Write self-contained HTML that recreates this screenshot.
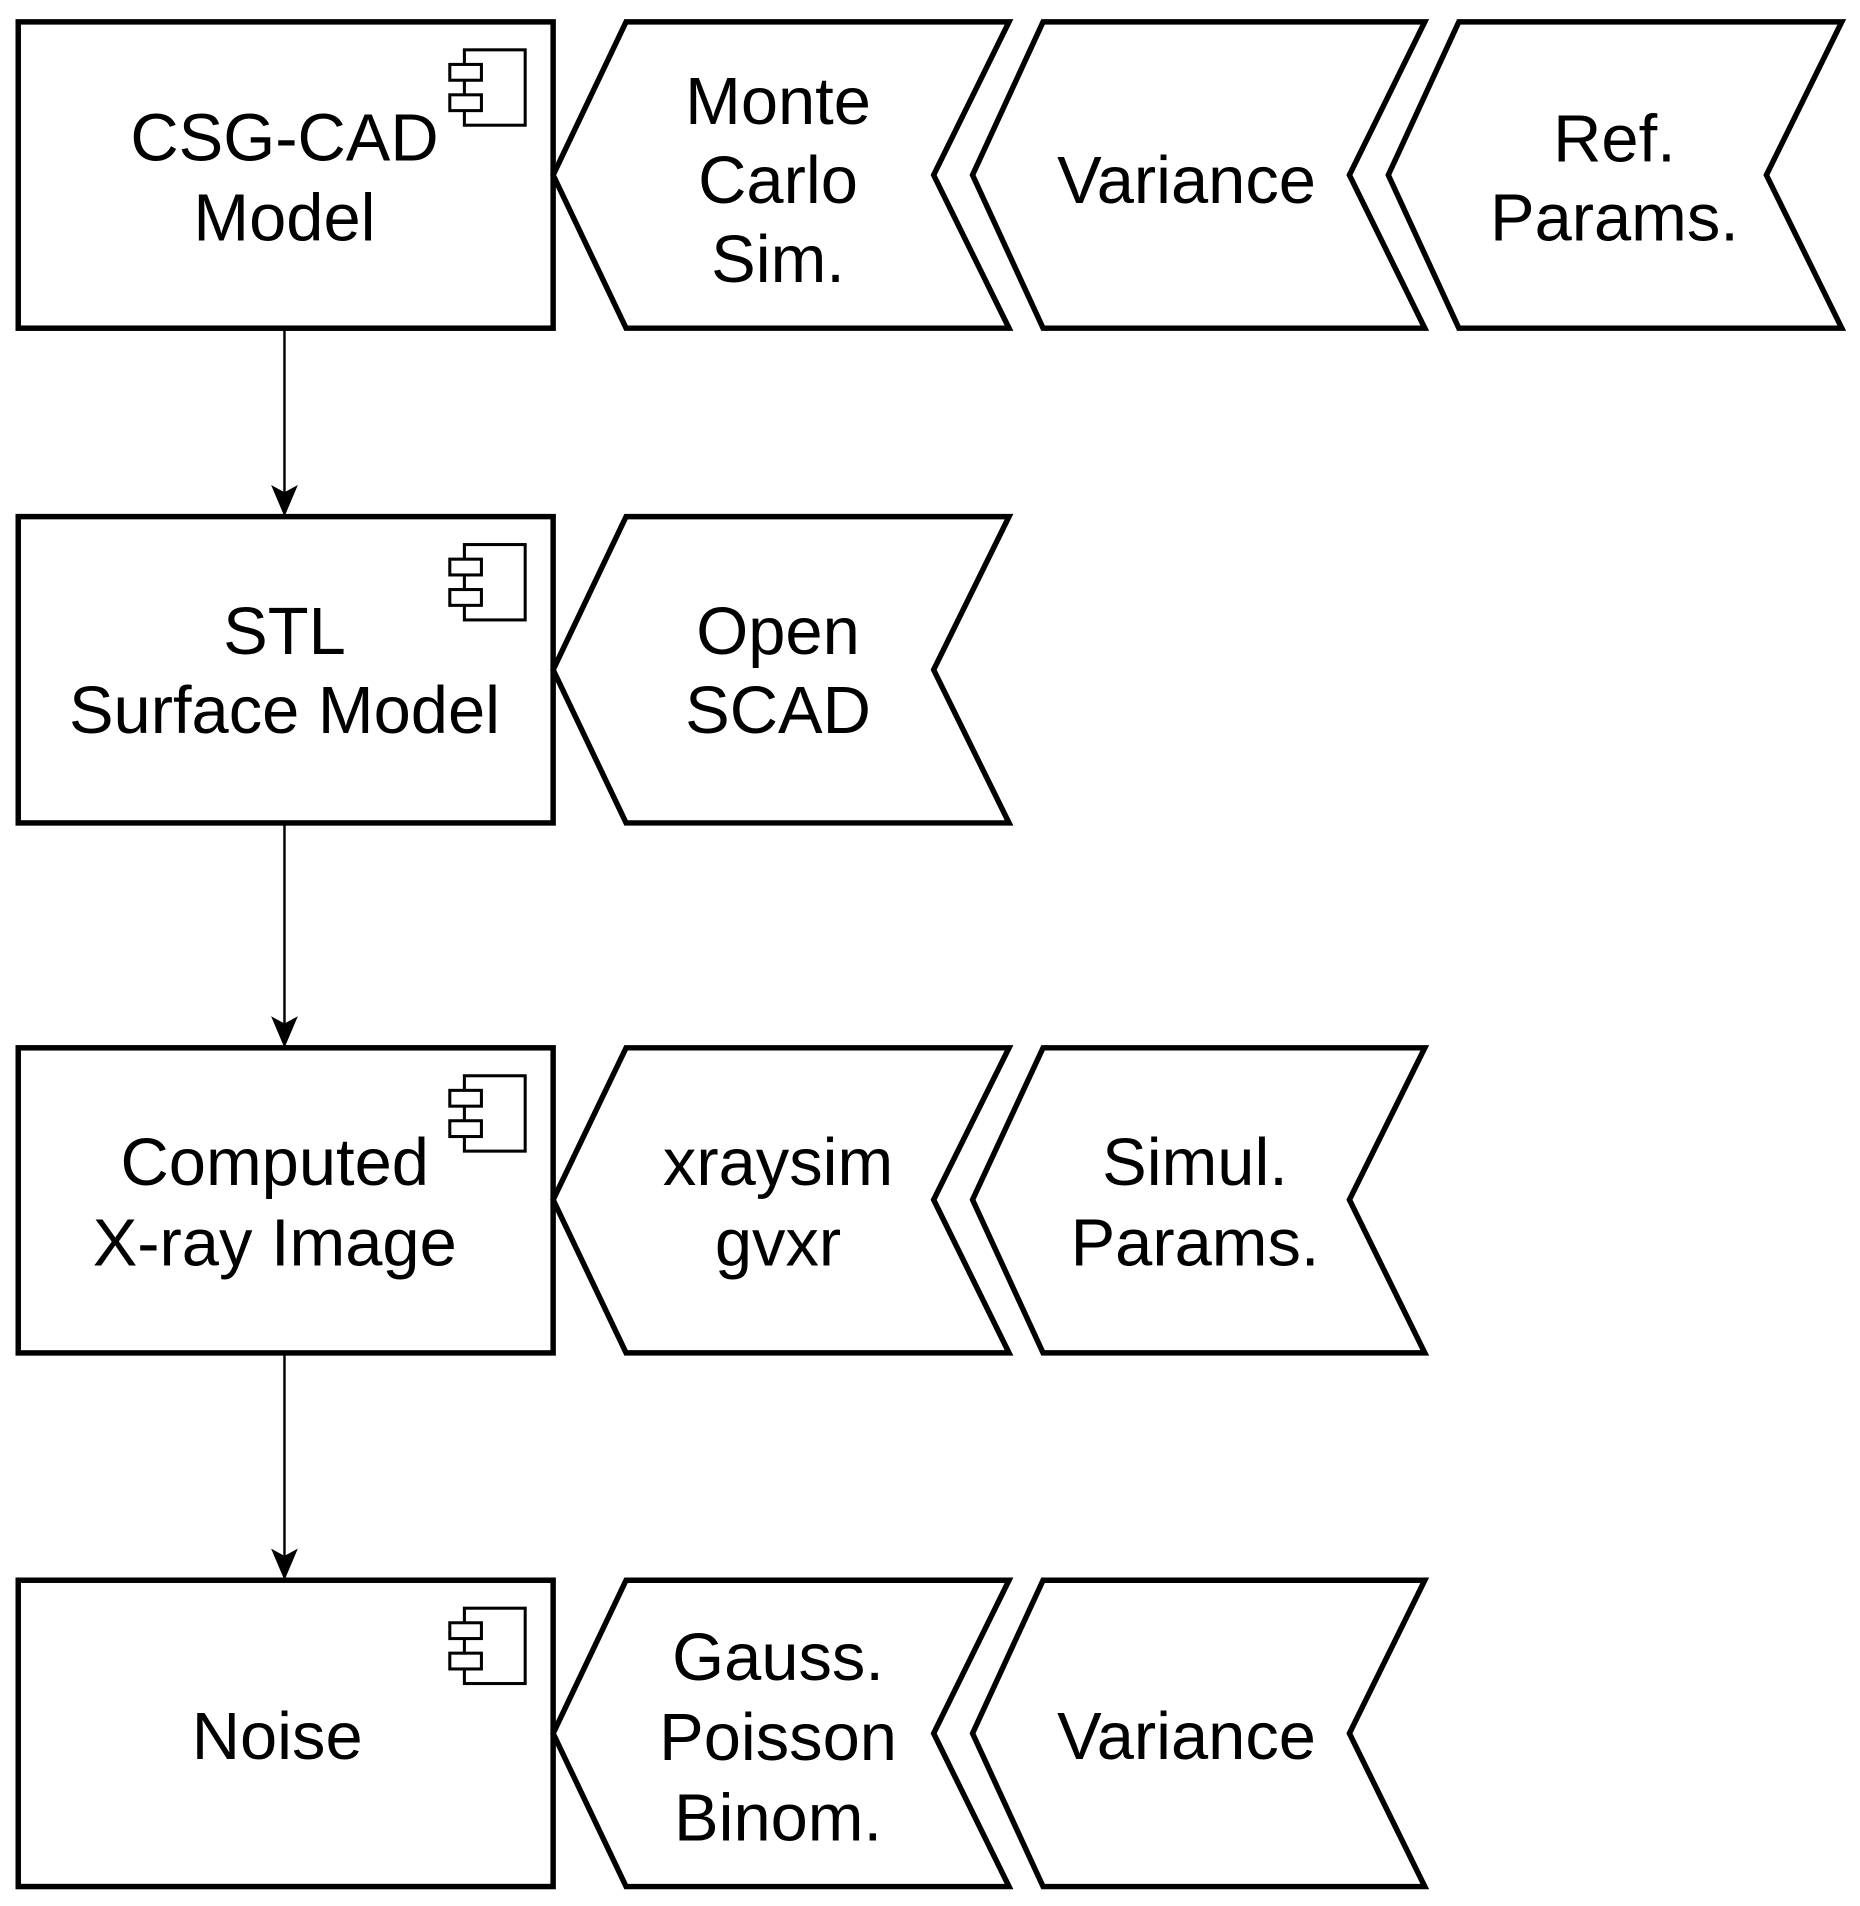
<!DOCTYPE html>
<html><head><meta charset="utf-8"><style>
html,body{margin:0;padding:0;background:#fff;}
svg{display:block;}
text{font-family:"Liberation Sans",Arial,sans-serif;font-size:55px;fill:#000;text-anchor:middle;}
</style></head><body>
<svg width="1860" height="1906" viewBox="0 0 1530 1568" preserveAspectRatio="none" xmlns="http://www.w3.org/2000/svg">
<defs>
<g id="icon" fill="#fff" stroke="#000" stroke-width="2.5">
<rect x="382" y="0" width="50" height="62"/>
<rect x="370" y="12" width="26" height="13"/>
<rect x="370" y="37" width="26" height="13"/>
</g>
<path id="ah" d="M0,0 L-11,-26 L0,-20 L11,-26 Z" fill="#000"/>
</defs>
<g fill="#fff" stroke="#000" stroke-width="4.5" stroke-linejoin="miter">
<!-- row 1 -->
<rect x="15" y="18" width="440" height="252"/>
<polygon points="455,144 515,18 830,18 768,144 830,270 515,270"/>
<polygon points="800,144 858,18 1172,18 1110,144 1172,270 858,270"/>
<polygon points="1142,144 1200,18 1515,18 1453,144 1515,270 1200,270"/>
<!-- row 2 -->
<rect x="15" y="425" width="440" height="252"/>
<polygon points="455,551 515,425 830,425 768,551 830,677 515,677"/>
<!-- row 3 -->
<rect x="15" y="862" width="440" height="251"/>
<polygon points="455,987 515,862 830,862 768,987 830,1113 515,1113"/>
<polygon points="800,987 858,862 1172,862 1110,987 1172,1113 858,1113"/>
<!-- row 4 -->
<rect x="15" y="1300" width="440" height="252"/>
<polygon points="455,1426 515,1300 830,1300 768,1426 830,1552 515,1552"/>
<polygon points="800,1426 858,1300 1172,1300 1110,1426 1172,1552 858,1552"/>
</g>
<use href="#icon" y="41"/>
<use href="#icon" y="448"/>
<use href="#icon" y="885"/>
<use href="#icon" y="1323"/>
<g stroke="#000" stroke-width="2">
<line x1="234" y1="272" x2="234" y2="410"/>
<line x1="234" y1="679" x2="234" y2="848"/>
<line x1="234" y1="1115" x2="234" y2="1286"/>
</g>
<use href="#ah" x="234" y="425"/>
<use href="#ah" x="234" y="862"/>
<use href="#ah" x="234" y="1300"/>
<text x="234" y="132">CSG-CAD</text>
<text x="234" y="198">Model</text>
<text x="640" y="102">Monte</text>
<text x="640" y="167">Carlo</text>
<text x="640" y="232">Sim.</text>
<text x="976" y="167">Variance</text>
<text x="1328" y="133">Ref.</text>
<text x="1328" y="198">Params.</text>
<text x="234" y="538">STL</text>
<text x="234" y="603">Surface Model</text>
<text x="640" y="538">Open</text>
<text x="640" y="603">SCAD</text>
<text x="226" y="975">Computed</text>
<text x="226" y="1041">X-ray Image</text>
<text x="640" y="975">xraysim</text>
<text x="640" y="1041">gvxr</text>
<text x="983" y="975">Simul.</text>
<text x="983" y="1041">Params.</text>
<text x="228" y="1447">Noise</text>
<text x="640" y="1382">Gauss.</text>
<text x="640" y="1448">Poisson</text>
<text x="640" y="1514">Binom.</text>
<text x="976" y="1447">Variance</text>
</svg>
</body></html>
